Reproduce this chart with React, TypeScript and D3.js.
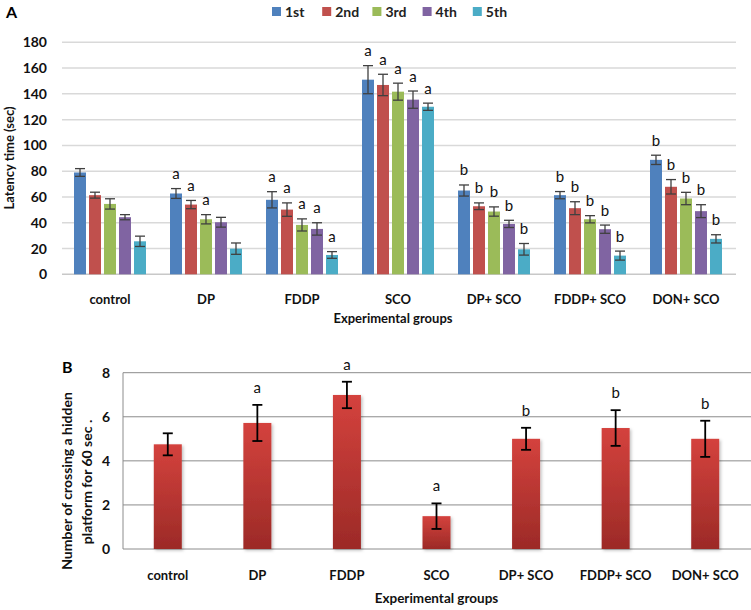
import React from "react";
import * as d3 from "d3";

const groups = ["control", "DP", "FDDP", "SCO", "DP+ SCO", "FDDP+ SCO", "DON+ SCO"];
const trials = ["1st", "2nd", "3rd", "4th", "5th"];
const trialColors = ["#4F81BD", "#C0504D", "#9BBB59", "#8064A2", "#4BACC6"];

// Panel A: latency (sec) per group, per trial
const latency1st = [79, 62.7, 57.8, 151, 65, 61.4, 88.8];
const latency2nd = [61.4, 54.1, 50.2, 146.9, 52.8, 51.3, 67.9];
const latency3rd = [54.6, 42.7, 38.3, 141.7, 48.7, 42.7, 58.8];
const latency4th = [44.3, 40.4, 35.2, 135.5, 39.1, 35, 49];
const latency5th = [25.6, 19.9, 15, 130, 19.4, 14.5, 27.5];
const err1st = [3, 3.8, 6.3, 10.9, 4.3, 2.8, 3.6];
const err2nd = [2.3, 3.2, 5.2, 8.3, 2.6, 5, 5.6];
const err3rd = [4, 3.6, 4.7, 6.6, 3.6, 2.8, 4.8];
const err4th = [2, 3.8, 4.8, 6.7, 2.8, 3.2, 5];
const err5th = [4, 4.4, 2.6, 2.8, 4.5, 3.5, 3.2];
const letters1st = ["", "a", "a", "a", "b", "b", "b"];
const letters2nd = ["", "a", "a", "a", "b", "b", "b"];
const letters3rd = ["", "a", "a", "a", "b", "b", "b"];
const letters4th = ["", "", "a", "a", "b", "b", "b"];
const letters5th = ["", "", "a", "a", "b", "b", "b"];
const ticksA = [0, 20, 40, 60, 80, 100, 120, 140, 160, 180];

// Panel B: number of crossings
const crossings = [4.75, 5.72, 6.99, 1.49, 5.0, 5.49, 5.0];
const crossingsErr = [0.5, 0.82, 0.6, 0.58, 0.5, 0.81, 0.82];
const crossingsLetters = ["", "a", "a", "a", "b", "b", "b"];
const ticksB = [0, 2, 4, 6, 8];

const latency = [latency1st, latency2nd, latency3rd, latency4th, latency5th];
const errs = [err1st, err2nd, err3rd, err4th, err5th];
const letters = [letters1st, letters2nd, letters3rd, letters4th, letters5th];

const FONT = "Lato, 'Open Sans', sans-serif";

export default function App() {
  // Panel A scales
  const xA = d3.scaleBand<string>().domain(groups).range([62, 734]).paddingInner(0.25).paddingOuter(0.125);
  const xAi = d3.scaleBand<string>().domain(trials).range([0, xA.bandwidth()]).paddingInner(0.2);
  const yA = d3.scaleLinear().domain([0, 180]).range([274.3, 42.3]);

  // Panel B scales
  const xB = d3.scaleBand<string>().domain(groups).range([123, 750]).paddingInner(0.6874).paddingOuter(0.3437);
  const yB = d3.scaleLinear().domain([0, 8]).range([549, 372.7]);

  const capA = 5;
  const capB = 5;

  return (
    <div style={{ position: "absolute", left: 0, top: 0 }}>
      <svg width={751} height={610} style={{ display: "block", background: "#fff" }} fontFamily={FONT}>
        <defs>
          <linearGradient id="barGrad" x1="0" y1="0" x2="0" y2="1">
            <stop offset="0%" stopColor="#d4423d" />
            <stop offset="100%" stopColor="#9c2a27" />
          </linearGradient>
          <filter id="shadow" x="-30%" y="-10%" width="160%" height="130%">
            <feDropShadow dx="1.5" dy="1.5" stdDeviation="1.5" floodColor="#000" floodOpacity="0.25" />
          </filter>
        </defs>

        {/* ===== Panel A ===== */}
        <text x={6} y={18} fontSize={16} fontWeight={700} fill="#000">A</text>

        {/* legend */}
        {trials.map((t, i) => (
          <g key={t} transform={`translate(${272 + i * 50.2},0)`}>
            <rect x={0} y={7} width={9} height={9} fill={trialColors[i]} />
            <text x={13} y={16.5} fontSize={14} fontWeight={700} fill="#222">{t}</text>
          </g>
        ))}

        {/* gridlines */}
        {ticksA.map((t) => (
          <line key={t} x1={62} x2={736} y1={yA(t)} y2={yA(t)} stroke={t === 0 ? "#c8c8c8" : "#d9d9d9"} strokeWidth={1.5} />
        ))}
        {ticksA.map((t) => (
          <text key={"l" + t} x={47} y={yA(t)} dy="0.36em" textAnchor="end" fontSize={14} fontWeight={700} fill="#111">{t}</text>
        ))}

        {/* bars */}
        {groups.map((g, gi) => (
          <g key={g} transform={`translate(${xA(g)},0)`}>
            {trials.map((t, ti) => {
              const v = latency[ti][gi];
              const e = errs[ti][gi];
              const x = xAi(t)!;
              const w = xAi.bandwidth();
              const cx = x + w / 2;
              const lt = letters[ti][gi];
              return (
                <g key={t}>
                  <rect x={x} y={yA(v)} width={w} height={yA(0) - yA(v)} fill={trialColors[ti]} />
                  <line x1={cx} x2={cx} y1={yA(v + e)} y2={yA(v - e)} stroke="#404040" strokeWidth={1.3} />
                  <line x1={cx - capA} x2={cx + capA} y1={yA(v + e)} y2={yA(v + e)} stroke="#404040" strokeWidth={1.3} />
                  <line x1={cx - capA} x2={cx + capA} y1={yA(v - e)} y2={yA(v - e)} stroke="#404040" strokeWidth={1.3} />
                  {lt && (
                    <text x={cx} y={yA(v + e) - 9.5} textAnchor="middle" fontSize={15} fill="#111">{lt}</text>
                  )}
                </g>
              );
            })}
          </g>
        ))}

        {/* x labels */}
        {groups.map((g) => (
          <text key={g} x={xA(g)! + xA.bandwidth() / 2} y={304} textAnchor="middle" fontSize={13} fontWeight={700} fill="#111">{g}</text>
        ))}
        <text x={393} y={322.5} textAnchor="middle" fontSize={13} fontWeight={700} fill="#111">Experimental groups</text>
        <text transform={`translate(9.5,158) rotate(-90)`} textAnchor="middle" dy="0.35em" fontSize={13} fontWeight={700} fill="#111">Latency time (sec)</text>

        {/* ===== Panel B ===== */}
        <text x={62} y={373} fontSize={16} fontWeight={700} fill="#000">B</text>

        {ticksB.map((t) => (
          <line key={t} x1={123} x2={751} y1={yB(t)} y2={yB(t)} stroke="#8c8c8c" strokeWidth={1} />
        ))}
        <line x1={123} x2={123} y1={yB(8)} y2={yB(0)} stroke="#8c8c8c" strokeWidth={1} />
        {ticksB.map((t) => (
          <text key={"b" + t} x={110} y={yB(t)} dy="0.36em" textAnchor="end" fontSize={14} fontWeight={700} fill="#111">{t}</text>
        ))}

        {groups.map((g, i) => {
          const v = crossings[i];
          const e = crossingsErr[i];
          const x = xB(g)!;
          const w = xB.bandwidth();
          const cx = x + w / 2;
          return (
            <g key={g}>
              <rect x={x} y={yB(v)} width={w} height={yB(0) - yB(v)} fill="url(#barGrad)" filter="url(#shadow)" />
              <line x1={cx} x2={cx} y1={yB(v + e)} y2={yB(v - e)} stroke="#000" strokeWidth={1.8} />
              <line x1={cx - capB} x2={cx + capB} y1={yB(v + e)} y2={yB(v + e)} stroke="#000" strokeWidth={1.8} />
              <line x1={cx - capB} x2={cx + capB} y1={yB(v - e)} y2={yB(v - e)} stroke="#000" strokeWidth={1.8} />
              {crossingsLetters[i] && (
                <text x={cx} y={yB(v + e) - 12} textAnchor="middle" fontSize={15} fill="#111">{crossingsLetters[i]}</text>
              )}
            </g>
          );
        })}

        {groups.map((g) => (
          <text key={"xb" + g} x={xB(g)! + xB.bandwidth() / 2} y={580} textAnchor="middle" fontSize={13} fontWeight={700} fill="#111">{g}</text>
        ))}
        <text x={436.5} y={603} textAnchor="middle" fontSize={13.5} fontWeight={700} fill="#111">Experimental groups</text>
        <text transform={`translate(66.7,481) rotate(-90)`} textAnchor="middle" dy="0.35em" fontSize={14} fontWeight={700} fill="#111">Number of crossing a hidden</text>
        <text transform={`translate(86.7,482) rotate(-90)`} textAnchor="middle" dy="0.35em" fontSize={14} fontWeight={700} fill="#111">platform for 60 sec .</text>
      </svg>
    </div>
  );
}
